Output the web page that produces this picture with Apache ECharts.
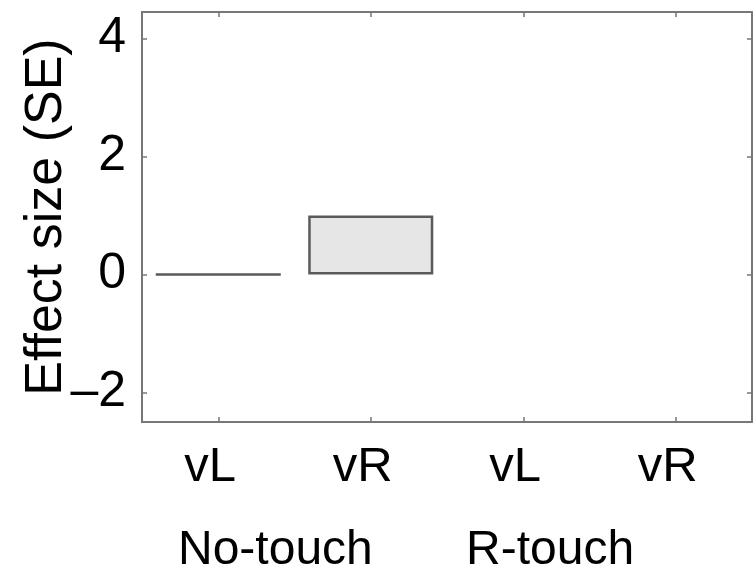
<!DOCTYPE html>
<html>
<head>
<meta charset="utf-8">
<script src="https://cdn.jsdelivr.net/npm/echarts@6/dist/echarts.min.js"></script>
<style>
html,body{margin:0;padding:0;background:#fff;}
#chart{width:753px;height:578px;}
</style>
</head>
<body>
<div id="chart"></div>
<script>
const categories = ['vL', 'vR', 'vL', 'vR'];
const effectValues = [0, 1, null, null];
const yTicks = [-2, 0, 2, 4];
const groupLabels = ['No-touch', 'R-touch'];

const FONT = '"Liberation Sans", Arial, Helvetica, sans-serif';
const AX = '#777777';
const chart = echarts.init(document.getElementById('chart'));

const option = {
  backgroundColor: '#ffffff',
  animation: false,
  grid: { left: 142, right: 1, top: 12, bottom: 156, containLabel: false, outerBoundsMode: 'none' },
  xAxis: [
    {
      type: 'category', data: categories, position: 'bottom',
      axisLine: { show: true, onZero: false, lineStyle: { color: AX, width: 2 } },
      axisTick: { show: true, inside: true, length: 5, alignWithLabel: true, lineStyle: { color: AX, width: 1.5 } },
      axisLabel: { color: '#000', fontSize: 49, fontFamily: FONT, margin: 21, padding: [0, 16, 0, 0] },
      splitLine: { show: false }
    },
    {
      type: 'category', data: categories, position: 'top',
      axisLine: { show: true, onZero: false, lineStyle: { color: AX, width: 2 } },
      axisTick: { show: true, inside: true, length: 5, alignWithLabel: true, lineStyle: { color: AX, width: 1.5 } },
      axisLabel: { show: false },
      splitLine: { show: false }
    }
  ],
  yAxis: [
    {
      type: 'value', min: -2.5, max: 4.45, position: 'left',
      name: 'Effect size (SE)', nameLocation: 'middle', nameGap: 69, nameMoveOverlap: false,
      nameTextStyle: { color: '#000', fontSize: 52, fontFamily: FONT },
      axisLine: { show: true, onZero: false, lineStyle: { color: AX, width: 2 } },
      axisTick: { show: true, inside: true, length: 5, customValues: yTicks, lineStyle: { color: AX, width: 1.5 } },
      axisLabel: {
        color: '#000', fontSize: 50, fontFamily: FONT, margin: 16, customValues: yTicks,
        formatter: v => (v < 0 ? '\u2013' + Math.abs(v) : String(v))
      },
      splitLine: { show: false }
    },
    {
      type: 'value', min: -2.5, max: 4.45, position: 'right',
      axisLine: { show: true, onZero: false, lineStyle: { color: AX, width: 2 } },
      axisTick: { show: true, inside: true, length: 5, customValues: yTicks, lineStyle: { color: AX, width: 1.5 } },
      axisLabel: { show: false },
      splitLine: { show: false }
    }
  ],
  series: [
    {
      type: 'bar', xAxisIndex: 0, yAxisIndex: 0,
      data: effectValues,
      barWidth: '82%',
      itemStyle: { color: '#e6e6e6', borderColor: '#5a5a5a', borderWidth: 2.5 }
    }
  ],
  graphic: [
    { type: 'text', left: 178, top: 527, style: { text: groupLabels[0], fontSize: 48, fontFamily: FONT, fill: '#000' } },
    { type: 'text', left: 466, top: 527, style: { text: groupLabels[1], fontSize: 48, fontFamily: FONT, fill: '#000' } }
  ]
};
chart.setOption(option);
</script>
</body>
</html>
